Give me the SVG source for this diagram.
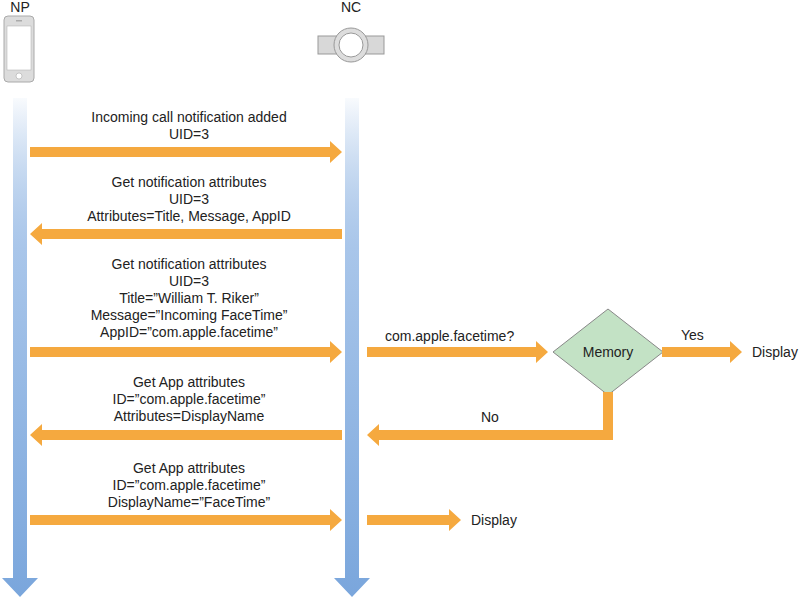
<svg xmlns="http://www.w3.org/2000/svg" width="799" height="597" viewBox="0 0 799 597">
<defs>
<linearGradient id="lg" x1="0" y1="0" x2="0" y2="1">
<stop offset="0" stop-color="#7aa6dc" stop-opacity="0.05"/>
<stop offset="0.3" stop-color="#a9c6ea"/>
<stop offset="1" stop-color="#7aa6dc"/>
</linearGradient>
</defs>
<style>
text{font-family:"Liberation Sans",Arial,sans-serif;font-size:14px;fill:#222}
.c{text-anchor:middle}
.arr{fill:#F5A93F}
.life{fill:url(#lg)}
</style>
<rect width="799" height="597" fill="#fff"/>
<g id="NP">
<text class="c" x="20" y="12" font-size="14">NP</text>
<rect x="4" y="16" width="30" height="66" rx="4" fill="#dcdcdc" stroke="#aaa"/>
<rect x="7" y="26" width="24" height="44" fill="#fff" stroke="#aaa" stroke-width="0.5"/>
<circle cx="19" cy="76" r="3" fill="#fff" stroke="#aaa" stroke-width="0.6"/>
<rect x="16" y="20" width="6" height="1.5" fill="#aaa"/>
<path class="life" d="M13,98H27V578H38L20,597L2,578H13Z"/>
</g>
<g id="NC">
<text class="c" x="351" y="12" font-size="14">NC</text>
<rect x="318" y="36" width="66" height="18" fill="#d8d8d8" stroke="#999"/>
<circle cx="351" cy="45" r="17" fill="#ddd" stroke="#999"/>
<circle cx="351" cy="45" r="12" fill="#fff" stroke="#999"/>
<path class="life" d="M345,98H359V578H370L352,597L334,578H345Z"/>
</g>
<g id="Memory">
<polygon points="553,352 608,309 663,352 608,395" fill="#c3e2c5" stroke="#888"/>
<text class="c" x="608" y="357">Memory</text>
</g>
<g id="connectors">
<path class="arr" d="M30,147H330V141L342,152L330,163V157H30Z"/>
<path class="arr" d="M342,229H42V223L30,234L42,245V239H342Z"/>
<path class="arr" d="M30,347H330V341L342,352L330,363V357H30Z"/>
<path class="arr" d="M342,430H42V424L30,435L42,446V440H342Z"/>
<path class="arr" d="M30,515H330V509L342,520L330,531V525H30Z"/>
<path class="arr" d="M367,347H536V341L548,352L536,363V357H367Z"/>
<path class="arr" d="M662,347H730V341L742,352L730,363V357H662Z"/>
<path class="arr" d="M603,392H613V440H379V446L367,435L379,424V430H603Z"/>
<path class="arr" d="M367,515H449V509L461,520L449,531V525H367Z"/>
</g>
<g id="labels">
<text class="c" x="189" y="122">Incoming call notification added</text>
<text class="c" x="189" y="139">UID=3</text>
<text class="c" x="189" y="187">Get notification attributes</text>
<text class="c" x="189" y="204">UID=3</text>
<text class="c" x="189" y="221">Attributes=Title, Message, AppID</text>
<text class="c" x="189" y="269">Get notification attributes</text>
<text class="c" x="189" y="286">UID=3</text>
<text class="c" x="189" y="303">Title=”William T. Riker”</text>
<text class="c" x="189" y="320">Message=”Incoming FaceTime”</text>
<text class="c" x="189" y="337">AppID=”com.apple.facetime”</text>
<text class="c" x="189" y="387">Get App attributes</text>
<text class="c" x="189" y="404">ID=”com.apple.facetime”</text>
<text class="c" x="189" y="421">Attributes=DisplayName</text>
<text class="c" x="189" y="473">Get App attributes</text>
<text class="c" x="189" y="490">ID=”com.apple.facetime”</text>
<text class="c" x="189" y="507">DisplayName=”FaceTime”</text>
<text x="385" y="341">com.apple.facetime?</text>
<text x="681" y="340">Yes</text>
<text x="752" y="357">Display</text>
<text x="481" y="422">No</text>
<text x="471" y="525">Display</text>
</g>
</svg>
